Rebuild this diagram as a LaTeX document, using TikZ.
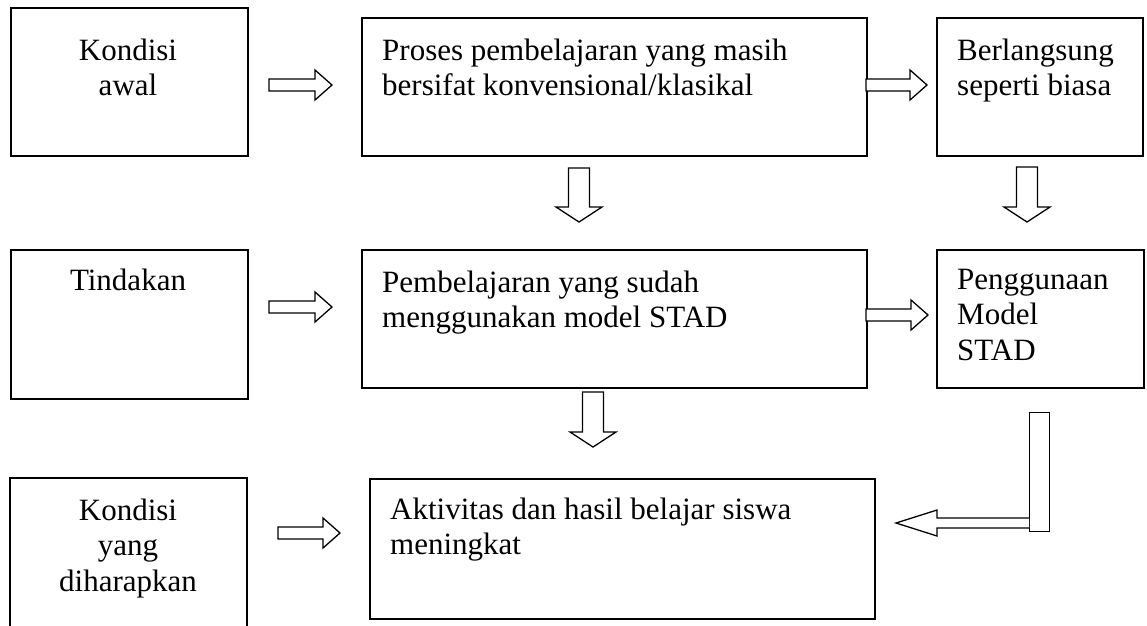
\documentclass[tikz,border=0pt]{standalone}
\usepackage{fontspec}
\setmainfont{Liberation Serif}
\tikzset{
  boxstyle/.style={draw=black, line width=1.6pt, rectangle, inner sep=0pt, anchor=north west},
  blk/.style={draw=black, line width=1.3pt, fill=white, line join=miter},
  lbl/.style={inner sep=0pt, font=\fontsize{31}{35.5}\selectfont},
}
\newcommand\RArr[3]{% tail x, tip x, centre y
  \draw[blk] (#1,#3-6) -- (#2-17,#3-6) -- (#2-17,#3-15) -- (#2,#3) -- (#2-17,#3+15) -- (#2-17,#3+6) -- (#1,#3+6) -- cycle;}
\newcommand\DArr[3]{% centre x, top y, tip y
  \draw[blk] (#1-10.5,#2) -- (#1+10.5,#2) -- (#1+10.5,#3-15) -- (#1+23,#3-15) -- (#1,#3) -- (#1-23,#3-15) -- (#1-10.5,#3-15) -- cycle;}
\begin{document}
\begin{tikzpicture}[x=1pt, y=-1pt]
\useasboundingbox[fill=white] (0,0) rectangle (1147,625);
% row 1
\node[boxstyle, minimum width=237pt, minimum height=148pt] (a1) at (10,7) {};
\node[boxstyle, minimum width=505pt, minimum height=138pt] (b1) at (361,17) {};
\node[boxstyle, minimum width=206pt, minimum height=138pt] (c1) at (936,17) {};
\node[lbl, anchor=north, align=center] (ta1) at (128,35) {\strut Kondisi\\awal};
\node[lbl, anchor=north west, align=left] (tb1) at (382,35) {\strut Proses pembelajaran yang masih\\bersifat konvensional/klasikal};
\node[lbl, anchor=north west, align=left] (tc1) at (957,35) {\strut Berlangsung\\seperti biasa};
% row 2
\node[boxstyle, minimum width=237pt, minimum height=149pt] (a2) at (10,249) {};
\node[boxstyle, minimum width=505pt, minimum height=138pt] (b2) at (361,249) {};
\node[boxstyle, minimum width=207pt, minimum height=138pt] (c2) at (936,249) {};
\node[lbl, anchor=north, align=center] (ta2) at (128,265) {\strut Tindakan};
\node[lbl, anchor=north west, align=left] (tb2) at (382,267) {\strut Pembelajaran yang sudah\\menggunakan model STAD};
\node[lbl, anchor=north west, align=left] (tc2) at (957,264) {\strut Penggunaan\\Model\\STAD};
% row 3
\coordinate (a3bl) at (10,626);
\coordinate (a3br) at (247,626);
\draw[line width=1.6pt] (a3bl) -- (10,478) -- (247,478) -- (a3br);
\node[boxstyle, minimum width=505pt, minimum height=140pt] (b3) at (369,478) {};
\node[lbl, anchor=north, align=center] (ta3) at (128,495) {\strut Kondisi\\yang\\diharapkan};
\node[lbl, anchor=north west, align=left] (tb3) at (390,494) {\strut Aktivitas dan hasil belajar siswa\\meningkat};
% horizontal block arrows
\RArr{269}{332}{85}
\RArr{866}{927}{85}
\RArr{269}{332}{307}
\RArr{866}{928}{315}
\RArr{278}{340}{533}
% vertical block arrows
\DArr{579}{168}{222}
\DArr{1027}{167}{222}
\DArr{593}{392}{447}
% L-shaped return arrow
\node[draw=black, line width=1.3pt, rectangle, inner sep=0pt, minimum width=20pt, minimum height=119pt, anchor=north west] (bar) at (1029,412) {};
\draw[blk] (bar.west |- 0,518) -- (937,518) -- (937,510) -- (896,523) -- (937,536) -- (937,528) -- (bar.west |- 0,528);
\end{tikzpicture}
\end{document}
